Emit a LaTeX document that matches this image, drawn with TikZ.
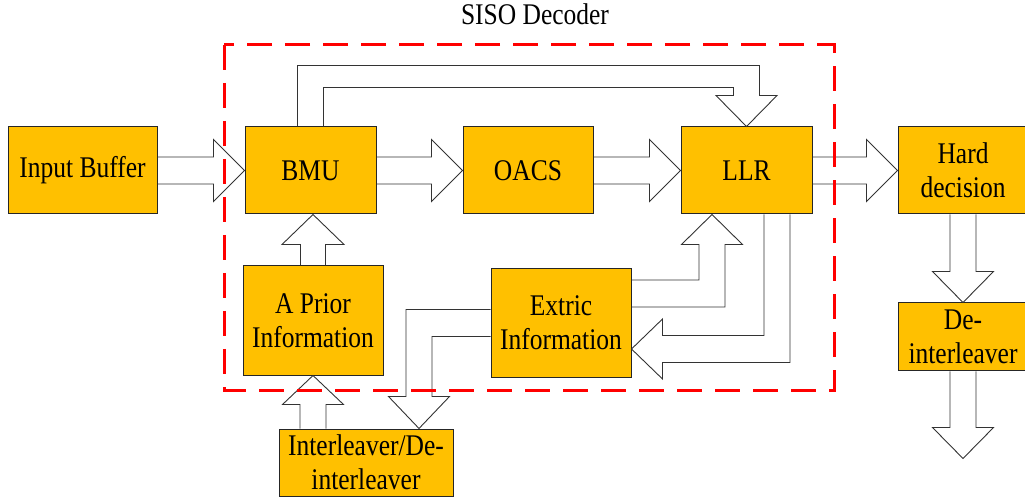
\documentclass[tikz,border=0pt]{standalone}
\usepackage{fontspec}
\setmainfont[FakeStretch=0.85]{Liberation Serif}
\usetikzlibrary{calc}
\definecolor{boxfill}{RGB}{255,192,0}
\begin{document}
\begin{tikzpicture}[x=1pt,y=-1pt,
  blockbox/.style={draw=black!85, line width=1pt, fill=boxfill, inner sep=0pt, align=center,
    font=\fontsize{30}{34}\selectfont, minimum height=87pt},
  blk/.style={draw=black!80, line width=0.9pt, line join=miter},
  sisoframe/.style={draw=red, line width=3pt, dash pattern=on 25pt off 13pt}]
\useasboundingbox (0,0) rectangle (1025,502);

% nodes
\node[blockbox, minimum width=149pt] (inbuf) at (82.5,170.5) {Input Buffer};
\node[blockbox, minimum width=131pt] (bmu) at (310.5,170.5) {BMU};
\node[blockbox, minimum width=130pt] (oacs) at (528,170.5) {OACS};
\node[blockbox, minimum width=131pt] (llr) at (746.5,170.5) {LLR};
\node[blockbox, minimum width=130pt] (hard) at (963,170.5) {Hard\\decision};
\node[blockbox, minimum width=130pt, minimum height=68pt] (deint) at (963,337) {De-\\interleaver};
\node[blockbox, minimum width=140pt, minimum height=109pt] (prior) at (313,320.5) {A Prior\\Information};
\node[blockbox, minimum width=140pt, minimum height=108pt] (extric) at (561,323) {Extric\\Information};
\node[blockbox, minimum width=174pt, minimum height=67pt] (inter) at (366,462.5) {Interleaver/De-\\interleaver};
\node[font=\fontsize{30}{34}\selectfont, inner sep=0pt] (title) at (535,14) {SISO Decoder};

% horizontal block arrows
\foreach \a/\b in {inbuf/bmu, bmu/oacs, oacs/llr, llr/hard}{
  \draw[blk] ($(\a.east)+(0,-13.5)$) -- ($(\b.west)+(-31,-13.5)$) -- ($(\b.west)+(-31,-31)$)
    -- (\b.west) -- ($(\b.west)+(-31,31)$) -- ($(\b.west)+(-31,13.5)$) -- ($(\a.east)+(0,13.5)$);
}

% top feed-forward arrow BMU -> LLR
\draw[blk] ($(bmu.north)+(-13,0)$) -- ($(bmu.north)+(-13,-61)$) -- ($(llr.north)+(13,-61)$)
  -- ($(llr.north)+(13,-31)$) -- ($(llr.north)+(30.5,-31)$) -- (llr.north)
  -- ($(llr.north)+(-30.5,-31)$) -- ($(llr.north)+(-13,-31)$) -- ($(llr.north)+(-13,-39)$)
  -- ($(bmu.north)+(13,-39)$) -- ($(bmu.north)+(13,0)$);

% A Prior -> BMU
\coordinate (pb) at (prior.north |- bmu.south);
\draw[blk] ($(prior.north)+(-12.5,0)$) -- ($(pb)+(-12.5,30)$) -- ($(pb)+(-31,30)$) -- (pb)
  -- ($(pb)+(31,30)$) -- ($(pb)+(12.5,30)$) -- ($(prior.north)+(12.5,0)$);

% Interleaver -> A Prior
\coordinate (ip) at (prior.south);
\draw[blk] ($(ip |- inter.north)+(-13,0)$) -- ($(ip)+(-13,29)$) -- ($(ip)+(-30.5,29)$) -- (ip)
  -- ($(ip)+(30.5,29)$) -- ($(ip)+(13,29)$) -- ($(ip |- inter.north)+(13,0)$);

% Extric -> Interleaver
\coordinate (itip) at ($(inter.north)+(53,0)$);
\draw[blk] ($(extric.west)+(0,-13.5)$) -| ($(itip)+(-13,-32)$) -- ($(itip)+(-30.5,-32)$) -- (itip)
  -- ($(itip)+(30.5,-32)$) -- ($(itip)+(13,-32)$) |- ($(extric.west)+(0,13.5)$);

% Extric -> LLR
\coordinate (ltip) at ($(llr.south)+(-34.5,0)$);
\draw[blk] ($(extric.east)+(0,-43)$) -| ($(ltip)+(-13,30)$) -- ($(ltip)+(-30.5,30)$) -- (ltip)
  -- ($(ltip)+(30.5,30)$) -- ($(ltip)+(13,30)$) |- ($(extric.east)+(0,-16)$);

% LLR -> Extric
\coordinate (etip) at ($(extric.east)+(0,26)$);
\draw[blk] ($(llr.south)+(17.5,0)$) |- ($(etip)+(31,-13.5)$) -- ($(etip)+(31,-30)$) -- (etip)
  -- ($(etip)+(31,30)$) -- ($(etip)+(31,13.5)$) -| ($(llr.south)+(43.5,0)$);

% Hard decision -> De-interleaver
\draw[blk] ($(hard.south)+(-13,0)$) -- ($(deint.north)+(-13,-31)$) -- ($(deint.north)+(-30.5,-31)$)
  -- (deint.north) -- ($(deint.north)+(30.5,-31)$) -- ($(deint.north)+(13,-31)$) -- ($(hard.south)+(13,0)$);

% De-interleaver -> output
\coordinate (out) at ($(deint.south)+(0,87)$);
\draw[blk] ($(deint.south)+(-13,0)$) -- ($(out)+(-13,-31)$) -- ($(out)+(-30.5,-31)$)
  -- (out) -- ($(out)+(30.5,-31)$) -- ($(out)+(13,-31)$) -- ($(deint.south)+(13,0)$);

% SISO frame
\draw[sisoframe] (224,45) rectangle (834,390);
\end{tikzpicture}
\end{document}
